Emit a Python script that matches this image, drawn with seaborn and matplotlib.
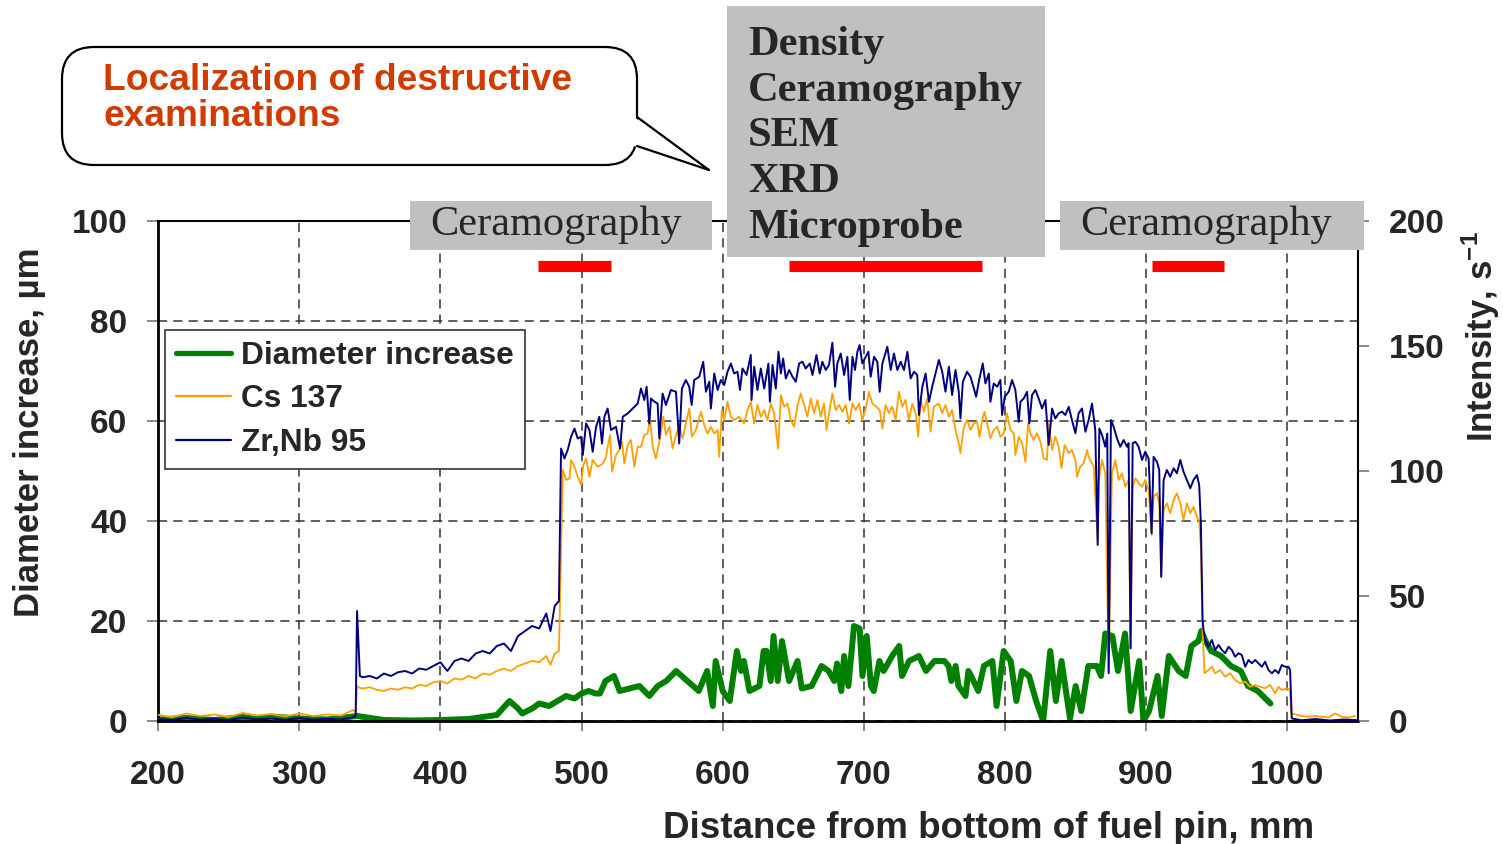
import numpy as np
import pandas as pd
import matplotlib
matplotlib.use("Agg")
import matplotlib.pyplot as plt
import seaborn as sns
from matplotlib.patches import FancyBboxPatch, Rectangle, Polygon
from matplotlib.lines import Line2D
from matplotlib.transforms import IdentityTransform

# ---------------- data ----------------
zr_x = [200, 210, 220, 230, 240, 250, 260, 270, 280, 290, 300, 310, 320, 330, 338, 340, 341, 343,
        345, 350, 355, 360, 365, 370, 375, 380, 385, 390, 395, 400, 405, 410, 415, 420, 425, 430, 435,
        440, 445, 450, 455, 460, 465, 470, 475, 478, 481, 484,
        485.5, 487.9, 490.2, 492.6, 495, 497.3, 499.7, 500.9, 503.2, 505.6, 507.9, 510.3, 512.6, 514.5,
        516.2, 518.5, 520.9, 524.4, 527.3, 529.2, 532.7, 536.2, 539.8, 542.1, 544.5, 546.1, 548, 549.2,
        551.6, 553.9, 555.1, 557.4, 559.8, 563.3, 566.9, 569.2, 571.1, 573.9, 576.3, 578, 579.8, 583.4,
        586.2, 588.1, 590.5, 591.6, 594, 596.4, 598.7, 601.1, 603.4, 605.8, 608.1, 610.5, 612.2, 614,
        616.9, 619.9, 620.4, 622.3, 624.6, 627, 629.4, 632.4, 633.4, 635.3, 637.6, 639.5, 641.2, 642.8,
        644.7, 647.1, 649.4, 651.8, 654.1, 656.5, 658.8, 661.7, 663.6, 666.4, 668.7, 670.6, 673, 675.3,
        677.7, 679.6, 681.2, 683.6, 686, 688.3, 690, 691.9, 693.7, 695.4, 697, 698.9, 701.3, 703.2,
        704.8, 707.2, 709.5, 711.2, 713.1, 716.6, 719, 721.3, 723.7, 726.1, 728.4, 730.8, 733.1, 735.5,
        737.8, 739, 741.4, 743.7, 746.1, 748.4,
        753.1, 755.5, 757.8, 760.2, 762.5, 764.9, 767.2, 768.4, 770.1, 773.1, 775.5, 777.9, 779.5, 781.9,
        784.2, 786.1, 788.5, 789.6, 792, 794.4, 796.7, 797.9, 799.8, 802.6, 805, 807.3, 809.7, 810.9,
        813.2, 815.6, 817.2, 819.1, 821.5, 823.8, 826.2, 828.6, 830.9, 833.3, 835.6, 838, 840.4, 842.7,
        845.1, 847.4, 849.8, 852.1, 854.5, 856.9,
        859.2, 861.6, 863.9, 865.6, 866.8, 868.7, 871, 872.4, 873.4, 875, 876.9, 879.3, 881.6, 884,
        886.4, 887.5, 888.9, 890.4, 892.3, 894.6, 897, 899.3, 901.7, 903.8, 905.2, 907.6, 909.2, 910.6,
        912.3, 914.6, 917, 919.4, 921.7, 924.1, 926.4, 928.8, 931.2, 933.5, 935.9, 937.5, 938.7, 939.9,
        940.6, 941.8, 944.1, 946.5, 948.8, 951.2, 953.6, 955.9, 958.3, 960.6, 963, 965.4, 967.7, 970.1,
        972.4, 974.8, 977.2, 979.5, 981.9, 984.2, 986.6, 989, 991.3, 993.7, 996, 998.4, 1000.7, 1001.9,
        1003.1, 1010, 1020, 1030, 1040, 1050]
zr_int = [0.8, 0.4, 1.2, 0.5, 0.9, 0.3, 1.4, 0.6, 1.0, 0.4, 1.2, 0.5, 0.9, 0.6, 1.5, 2.0, 44, 18,
          17.5, 18, 17, 19, 18, 19.5, 20, 19, 21, 20.5, 22, 23.5, 20, 24, 25, 24, 27, 28, 27,
          30, 31, 28, 34, 36, 38, 37, 43, 36, 46, 48,
          109, 105, 108.4, 113.7, 117, 113, 113.7, 106.4, 119, 116.4, 107.7, 117.7, 121.7, 111,
          121.7, 125, 116.4, 117.7, 109, 121.7, 123, 125, 127, 133, 128.4, 133.7, 119, 129,
          127.7, 127, 113, 131, 126.4, 132.4, 131.7, 111, 133, 136.4, 133.7, 126.4, 136.4, 137.7,
          143.7, 131.7, 135.7, 125, 139, 132.4, 136.4, 134.4, 139.7, 143, 139, 139.7, 132.4, 141,
          138.4, 146.4, 128.4, 141.7, 132.4, 141, 133, 143, 127.7, 142.4, 133, 147.7, 139, 145,
          137, 140.4, 137.7, 135.7, 143, 143.7, 141, 143, 138.4, 146.4, 139, 143.7, 140.4, 142.4,
          151.3, 133.7, 143, 147, 138.4, 145.7, 128.4, 145.7, 140.4, 147.7, 150.4, 143, 145.7, 147.7,
          137.7, 145.7, 143.7, 131.7, 143, 149.7, 140.4, 147, 140.4, 143.7, 140.4, 147.7, 137, 139.7,
          138.4, 122.4, 133.7, 139, 127.7, 133.7,
          144.4, 139.7, 131.7, 141.7, 130.4, 140.4, 131.7, 121, 135.7, 139.7, 137.7, 133, 129.7, 137.1,
          143, 135, 139, 127.7, 135, 133.7, 136.4, 122.4, 129.7, 131.7, 136.4, 132.4, 119.7, 127.7,
          129, 131.7, 119, 130.4, 132.4, 129, 125, 128.4, 110.4, 125, 121, 123.1, 123.7, 122.4,
          125.7, 120.4, 115.1, 123.1, 125, 115.7,
          120.4, 127, 116.4, 70.4, 117, 114.4, 109.7, 115, 19.1, 120.4, 117.7, 113, 109.7, 112.4,
          109.7, 111.1, 29.1, 111.1, 111.7, 109.7, 104.4, 107.7, 105, 75.1, 105.7, 103.7, 100.4, 57.7,
          96.4, 100.4, 97.7, 101.1, 99.1, 104.4, 99.7, 96.4, 93.1, 96.4, 98.4, 94.4, 79, 40.4,
          36.4, 32.4, 29.7, 32.4, 28.4, 30.4, 28.4, 27.1, 29.7, 28.4, 25.7, 27.1, 26.4, 21.7,
          24.4, 23.1, 24.4, 23.1, 21.7, 23.7, 20.4, 19.1, 20.4, 19.1, 22.4, 21.7, 21.7, 20.4,
          1, 0.3, 0.8, 0.2, 0.6, 0.3]

cs_x = [200, 210, 220, 230, 240, 250, 260, 270, 280, 290, 300, 310, 320, 330, 338, 340, 341, 343,
        345, 350, 355, 360, 365, 370, 375, 380, 385, 390, 395, 400, 405, 410, 415, 420, 425, 430, 435,
        440, 445, 450, 455, 460, 465, 470, 475, 478, 481, 484,
        486.7, 489.1, 491.4, 492.6, 495, 497.3, 499.7, 501.3, 503.2, 505.6, 507.9, 511.5, 515, 517.4,
        518.5, 520.2, 521.6, 524.4, 526.8, 528.7, 530.3, 532.7, 535, 537.4, 539.8, 542.1, 544.5, 546.8,
        548.5, 550.4, 552.7, 555.6, 557.9, 559.8, 562.2, 564.5, 566.9, 569.2, 571.6, 573.9, 576.3, 578.2,
        581, 584.6, 586.9, 589.3, 591.6, 594, 596.4, 597.5, 599.4, 601.1, 603.4, 605.8, 608.1, 611.7,
        615.2, 617.6, 619.9, 622.3, 624.6, 627, 629.4, 631.7, 634.1, 636.4, 639.3, 641.2, 643.5, 645.9,
        648.2, 650.6, 653, 655.3, 657.7, 660, 662.4, 664.7, 667.1, 669.4, 671.8, 673.5, 675.3, 677.7,
        680.1, 682.4, 684.8, 687.1, 689.5, 691.9, 694.2, 696.6, 698.9, 701.3, 703.6, 706, 708.8, 711.2,
        713.1, 715.4, 717.8, 720.1, 722.5, 724.8, 727.2, 729.5, 731.9, 734.3, 736.6, 738.5, 740.2, 742.5,
        744.9, 747.2, 749.6,
        753.1, 755.5, 757.8, 760.2, 762.5, 764.9, 767.2, 768.4, 770.8, 773.1, 775.5, 777.9, 780.2, 781.9,
        783.8, 785.4, 787.3, 789.6, 792, 794.4, 796.7, 799.1, 801.4, 803.8, 806.2, 807.3, 809.7, 812.1,
        814.4, 816.3, 817.9, 820.3, 822.6, 825, 827.4, 829.7, 830.9, 833.3, 835.6, 838, 839.9, 842.2,
        845.1, 847.4, 849.8, 851, 853.3, 855.7, 858.1,
        859.2, 862.8, 865.6, 866.3, 868.7, 871, 873.4, 875.7, 878.1, 880.5, 882.8, 885.2, 887.5, 888.9,
        890.4, 892.3, 894.6, 897, 899.3, 901.7, 903.8, 905.2, 907.6, 909.2, 910.6, 912.3, 914.6, 917,
        919.4, 921.7, 924.1, 926.4, 928.8, 931.2, 933.5, 935.9, 937.5, 938.7, 939.9, 941.3, 944.1, 946.5,
        948.8, 952.4, 955.9, 959.5, 963, 966.5, 970.1, 973.6, 977.2, 980.7, 984.2, 987.8, 991.3, 993.7,
        996, 999.6, 1001.9, 1002.6, 1005.4, 1010, 1014.9, 1019.6, 1024.3, 1029, 1033.8, 1038.5, 1043.2,
        1047.9]
cs_int = [2.5, 1.5, 3.0, 2.0, 2.6, 1.6, 3.2, 2.2, 2.8, 1.8, 3.0, 2.0, 2.6, 2.2, 4.4, 3.5, 14, 13.2,
          13, 13.5, 12.5, 12, 13, 12.5, 13.5, 13, 14.5, 14, 15.5, 16, 15, 17, 16.5, 18, 17, 19, 18.5,
          20, 21, 20, 22, 23, 24, 23.5, 26, 22.5, 27, 28,
          100.4, 96.4, 97, 104.4, 101.7, 97.7, 94.4, 102.4, 105, 97.7, 104.4, 101.7, 103, 105.7,
          109.7, 114.4, 99.7, 106.4, 108.4, 111.7, 103, 110.4, 112.4, 101.7, 109.7, 109.7, 114.4, 115,
          121, 109.7, 105, 113, 121.7, 114.4, 117.7, 109, 114.4, 117.7, 113, 119, 125, 113.7,
          116.4, 123.7, 118.4, 115, 117.7, 115, 116.4, 105.7, 124.4, 120.4, 127.7, 121.7, 120.4, 121.7,
          119, 124.4, 127.7, 119, 126.4, 121.7, 124.4, 120.4, 127, 123.1, 109, 130.4, 125.7, 127,
          120.4, 117.7, 126.4, 131, 126.4, 121.7, 129, 123.1, 128.4, 121.7, 127, 116.4, 123.1, 131,
          124.4, 126.4, 123.7, 126.4, 119, 127, 124.4, 127, 120.4, 125, 131.7, 127, 125.7, 124.4,
          117, 126.4, 123.1, 125.7, 120.4, 131.7, 125.7, 128.4, 120.4, 127, 123.1, 113.7, 128.4, 123.7,
          129, 115.7, 125.7,
          127, 123.1, 126.4, 121.7, 124.4, 116.4, 111.1, 107.1, 117.7, 120.4, 116.4, 119.1, 119.7, 113.7,
          120.4, 123.7, 119.1, 113.1, 116.4, 117.7, 113.7, 115.1, 123.1, 116.4, 115.1, 106.4, 113.7, 111.1,
          103.7, 119.1, 115.1, 112.4, 115.1, 111.7, 105, 104.4, 119.1, 108.4, 113.7, 109.7, 101.1, 110.4,
          107.1, 108.4, 104.4, 97.7, 101.7, 103.1, 108.4,
          105.7, 101.7, 72, 96.4, 104.4, 99.1, 20, 99.1, 104.4, 96.4, 99.1, 93.7, 96.4, 29,
          93.7, 97.1, 95.1, 93.7, 96.4, 92.4, 74.4, 89.7, 91.1, 87.1, 57.7, 84.4, 87.1, 83.1,
          88.4, 91.1, 87.1, 80.4, 87.1, 83.1, 85.7, 81.7, 79.7, 69.7, 36.4, 19.1, 20.4, 21.7,
          19.1, 20.4, 17.7, 19.1, 16.4, 15.1, 15.7, 13.7, 14.4, 13.7, 13.1, 14.4, 11.1, 13.7,
          12.4, 13.1, 12.4, 3, 2.7, 2, 1.7, 2, 1.7, 1.4, 3, 1.7, 1.4,
          2]

dia_x = [200, 220, 240, 260, 270, 280, 300, 320, 341, 360, 380, 400, 420, 430, 440, 449, 455, 458,
         465, 470, 477, 483, 489, 495, 500, 505, 510, 513, 517, 523, 527, 534, 541, 548, 554, 560,
         567, 575, 583, 589, 593, 595, 600, 605, 610, 613, 615, 619, 626, 629, 631, 634, 636, 639,
         642, 647, 653, 656, 663, 670, 675, 679, 681, 684, 686, 689, 693, 697, 699, 702, 705, 707,
         711, 714, 720, 725, 727, 732, 739, 744, 750, 757, 760, 762, 765, 767, 772, 774, 776, 781,
         785, 791, 794, 799, 804, 808, 812, 817, 822, 827, 832, 836, 840, 846, 850, 854, 859, 865,
         868, 871, 876, 880, 885, 889, 895, 898, 902, 908, 911, 916, 923, 928, 932, 937, 939, 942,
         946, 953, 960, 967, 972, 979, 988]
dia_um = [0.3, 0.6, 0.2, 0.8, 0.4, 0.9, 0.5, 0.3, 1, 0.2, 0.1, 0.2, 0.4, 0.8, 1.2, 4, 2.5, 1.5,
          2.5, 3.5, 3, 4, 5, 4.5, 5.5, 6, 5.5, 5.5, 8, 9, 6, 6.5, 7, 5, 7, 8,
          10, 8, 6, 10, 3, 12, 6, 4, 14, 10, 12, 6, 7, 14, 14, 8, 17, 8,
          16, 8, 12, 6.5, 7, 11, 10, 8, 11.5, 6, 13, 7, 19, 18.5, 9, 17, 7, 6,
          12, 10, 13, 15, 9, 12, 13, 10, 12, 12, 11, 8, 11, 7, 5, 10, 9, 6,
          11, 12, 3, 14, 12, 4, 10, 9, 4, 0, 14, 4, 12, 0.5, 7, 2, 11, 11,
          9, 17.5, 17, 10, 17.5, 2, 12, 0, 2, 9, 1, 13, 10, 9, 15, 16, 18, 16,
          14, 13, 11, 10, 7, 6, 3.5]

exam_start = [469, 647, 904]
exam_end = [521, 784, 955]
exam_level = 91

x_ticks = [200, 300, 400, 500, 600, 700, 800, 900, 1000]
y_left_ticks = [0, 20, 40, 60, 80, 100]
y_right_ticks = [0, 50, 100, 150, 200]

# ---------------- style ----------------
sns.set_style("white")
plt.rcParams["font.family"] = ["Liberation Sans", "DejaVu Sans"]
plt.rcParams["font.weight"] = "bold"
plt.rcParams["mathtext.fontset"] = "custom"
plt.rcParams["mathtext.rm"] = "Liberation Sans:bold"
plt.rcParams["mathtext.bf"] = "Liberation Sans:bold"

W, H = 1503, 844
fig = plt.figure(figsize=(W / 100, H / 100), dpi=100)
fig.patch.set_facecolor("white")

def fx(px):
    return px / W

def fy(py):
    return 1 - py / H

ax = fig.add_axes([fx(158), fy(721), (1358 - 158) / W, (721 - 221) / H])
ax2 = ax.twinx()

GREEN = "#008000"
ORANGE = "#FFA000"
NAVY = "#000080"

sns.lineplot(x=dia_x, y=dia_um, ax=ax, color=GREEN, lw=4.3, estimator=None, sort=False,
             solid_joinstyle="round", solid_capstyle="round")
sns.lineplot(x=cs_x, y=cs_int, ax=ax2, color=ORANGE, lw=1.3, estimator=None, sort=False)
sns.lineplot(x=zr_x, y=zr_int, ax=ax2, color=NAVY, lw=1.4, estimator=None, sort=False)

ax.hlines([exam_level] * len(exam_start), exam_start, exam_end, color="#FF0000", lw=8,
          capstyle="butt", zorder=4)

ax.set_xlim(200, 1050)
ax.set_ylim(0, 100)
ax2.set_ylim(0, 200)
ax.set_xticks(x_ticks)
ax.set_yticks(y_left_ticks)
ax2.set_yticks(y_right_ticks)
ax2.set_xlim(200, 1050)

ax.grid(True, ls=(0, (6, 4)), color="#333333", lw=1.1)
ax2.grid(False)
ax.set_axisbelow(True)

for s in ["left", "bottom"]:
    ax.spines[s].set_linewidth(2.0)
    ax.spines[s].set_color("black")
for s in ["right", "top"]:
    ax2.spines[s].set_linewidth(1.5)
    ax2.spines[s].set_color("black")
    ax.spines[s].set_visible(False)
ax2.spines["left"].set_visible(False)
ax2.spines["bottom"].set_visible(False)

TICKFS = 24
ax.tick_params(axis="x", length=7, width=1.3, color="#808080", pad=21, labelsize=TICKFS,
               direction="out", bottom=True)
ax.tick_params(axis="y", length=8, width=1.3, color="#808080", pad=14, labelsize=TICKFS,
               direction="out", left=True)
ax2.tick_params(axis="y", length=8, width=1.3, color="#808080", pad=14, labelsize=TICKFS,
                direction="out", right=True)
for lab in ax.get_xticklabels() + ax.get_yticklabels() + ax2.get_yticklabels():
    lab.set_fontweight("bold")

ax.set_xlabel("Distance from bottom of fuel pin, mm", fontsize=26.5, fontweight="bold")
ax.xaxis.set_label_coords((989 - 158) / 1200, (721 - 811) / 500)
ax.set_ylabel("Diameter increase, µm", fontsize=25, fontweight="bold")
ax.yaxis.set_label_coords((46 - 158) / 1200, (721 - 432) / 500)
ax2.set_ylabel(r"Intensity, s$^{-1}$", fontsize=25, fontweight="bold")
ax2.yaxis.set_label_coords((1460 - 158) / 1200, (721 - 337) / 500)

handles = [Line2D([], [], color=GREEN, lw=3.8), Line2D([], [], color=ORANGE, lw=1.6),
           Line2D([], [], color=NAVY, lw=1.6)]
leg = ax2.legend(handles, ["Diameter increase", "Cs 137", "Zr,Nb 95"], loc="upper left",
                 bbox_to_anchor=((165 - 158) / 1200, (721 - 330) / 500), borderaxespad=0,
                 fancybox=False, framealpha=1, edgecolor="#333333",
                 prop={"size": 22.75, "weight": "bold"}, handlelength=1.75, handletextpad=0.3,
                 labelspacing=0.42, borderpad=0.35)
leg.get_frame().set_linewidth(1.2)

# ---------------- annotations in figure pixels ----------------
ident = IdentityTransform()

def rect(x0, y0, x1, y1, **kw):
    r = Rectangle((x0, H - y1), x1 - x0, y1 - y0, transform=ident, **kw)
    fig.add_artist(r)
    return r

GRAY = "#C0C0C0"
rect(410, 201, 712, 250, facecolor=GRAY, edgecolor="none", zorder=20)
rect(1060, 201, 1364, 250, facecolor=GRAY, edgecolor="none", zorder=20)
rect(727, 6, 1045, 257, facecolor=GRAY, edgecolor="none", zorder=20)

SERIF = ["Liberation Serif", "DejaVu Serif"]
BOXFS = 30.5
fig.text(fx(430), fy(235), "Ceramography", fontsize=BOXFS, family=SERIF, fontweight="normal",
         ha="left", va="baseline", zorder=21)
fig.text(fx(1080), fy(235), "Ceramography", fontsize=BOXFS, family=SERIF, fontweight="normal",
         ha="left", va="baseline", zorder=21)
for txt, base in zip(["Density", "Ceramography", "SEM", "XRD", "Microprobe"],
                     [55, 101, 146, 192, 238]):
    fig.text(fx(748), fy(base), txt, fontsize=BOXFS, family=SERIF, fontweight="bold",
             ha="left", va="baseline", zorder=21)

# callout bubble
bubble = FancyBboxPatch((62, H - 165), 637 - 62, 165 - 47,
                        boxstyle="round,pad=0,rounding_size=32", transform=ident,
                        facecolor="white", edgecolor="black", lw=1.6, zorder=20)
fig.add_artist(bubble)
tail = Polygon([(634, H - 117), (709, H - 170), (634, H - 146)], closed=True, transform=ident,
               facecolor="white", edgecolor="none", zorder=21)
fig.add_artist(tail)
fig.add_artist(Line2D([637, 709], [H - 117, H - 170], transform=ident, color="black", lw=1.6,
                      zorder=22))
fig.add_artist(Line2D([637, 709], [H - 146, H - 170], transform=ident, color="black", lw=1.6,
                      zorder=22))
RED_TXT = "#D03C00"
fig.text(fx(103), fy(90), "Localization of destructive", fontsize=26.7, color=RED_TXT,
         fontweight="bold", ha="left", va="baseline", zorder=23)
fig.text(fx(103), fy(126), "examinations", fontsize=26.7, color=RED_TXT,
         fontweight="bold", ha="left", va="baseline", zorder=23)

fig.savefig("out.png", dpi=100, facecolor="white")
